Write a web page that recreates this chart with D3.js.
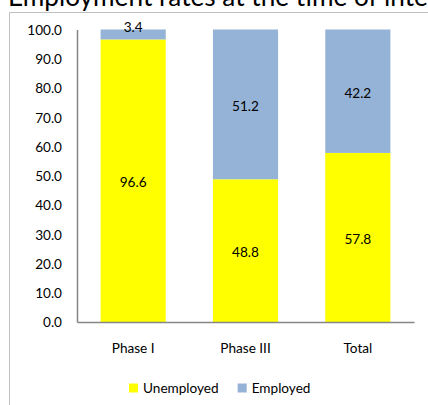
<!DOCTYPE html>
<html>
<head>
<meta charset="utf-8">
<script src="https://cdn.jsdelivr.net/npm/d3@7"></script>
<style>
  html, body { margin: 0; padding: 0; background: #fff; }
  svg { display: block; }
  text { font-family: Lato, "Open Sans", sans-serif; fill: #000; }
</style>
</head>
<body>
<svg id="chart" width="428" height="405"></svg>
<script>
// ---- data ----
const categories = ["Phase I", "Phase III", "Total"];
const unemployed = [96.6, 48.8, 57.8];
const employed = [3.4, 51.2, 42.2];
const seriesNames = ["Unemployed", "Employed"];
const seriesColors = ["#FFFF00", "#95B3D7"];
const yTicks = [0, 10, 20, 30, 40, 50, 60, 70, 80, 90, 100];
const titleText = "Employment rates at the time of interview";

// ---- layout ----
const W = 428, H = 405;
const plot = { left: 77, right: 414, top: 29.5, bottom: 322 };
const svg = d3.select("#chart");

// outer chart-area border (left and top edges visible)
svg.append("path")
  .attr("d", `M9.5,${H} V12.5 H${W}`)
  .attr("fill", "none")
  .attr("stroke", "#BFBFBF")
  .attr("stroke-width", 1);

// title (clipped by window)
const title = svg.append("text")
  .attr("x", 8).attr("y", 5.5)
  .style("font-size", "28px")
  .text(titleText);
// fit so the visible part "Employment rates at the time of inte" spans ~420px
{
  const probe = svg.append("text").style("font-size", "28px").text("Employment rates at the time of inte");
  const w = probe.node().getComputedTextLength();
  probe.remove();
  title.style("font-size", (28 * 420 / w).toFixed(2) + "px");
}

const x = d3.scaleBand()
  .domain(categories)
  .range([plot.left, plot.right])
  .paddingInner(0.42)
  .paddingOuter(0.21);

const y = d3.scaleLinear()
  .domain([0, 100])
  .range([plot.bottom, plot.top]);

// stack
const rows = categories.map((c, i) => ({ cat: c, Unemployed: unemployed[i], Employed: employed[i] }));
const stack = d3.stack().keys(seriesNames)(rows);

const groups = svg.append("g").selectAll("g")
  .data(stack).join("g")
  .attr("fill", (d, i) => seriesColors[i]);

groups.selectAll("rect")
  .data(d => d)
  .join("rect")
  .attr("x", d => x(d.data.cat))
  .attr("width", x.bandwidth())
  .attr("y", d => y(d[1]))
  .attr("height", d => y(d[0]) - y(d[1]));

// data labels
const labelG = svg.append("g").style("font-size", "13.6px").attr("text-anchor", "middle");
stack.forEach((s) => {
  s.forEach(d => {
    const v = d[1] - d[0];
    const top = y(d[1]), bot = y(d[0]);
    let yy = (top + bot) / 2 + 6.5;
    if (bot - top < 20) yy = top + 2;
    labelG.append("text")
      .attr("x", x(d.data.cat) + x.bandwidth() / 2)
      .attr("y", yy)
      .text(v.toFixed(1));
  });
});

// y axis
const yAxis = d3.axisLeft(y).tickValues(yTicks).tickSize(0).tickPadding(15).tickFormat(d3.format(".1f"));
const gy = svg.append("g").attr("transform", `translate(${plot.left},0)`).call(yAxis);
gy.select(".domain").attr("stroke", "#868686").attr("stroke-width", 1.5);
gy.selectAll("text").attr("fill", "#000").style("font-size", "13.6px").style("font-family", "Lato, sans-serif").attr("dy", "0.36em");

// x axis
const xAxis = d3.axisBottom(x).tickSize(0).tickPadding(0);
const gx = svg.append("g").attr("transform", `translate(0,${plot.bottom})`).call(xAxis);
gx.select(".domain").attr("stroke", "#868686").attr("stroke-width", 1.5);
gx.selectAll("text").attr("fill", "#000").style("font-size", "13.6px").style("font-family", "Lato, sans-serif")
  .attr("dy", null).attr("y", 31);

// legend
const leg = svg.append("g").style("font-size", "13.6px");
let lx = 129;
seriesNames.forEach((name, i) => {
  leg.append("rect").attr("x", lx).attr("y", 383.5).attr("width", 9).attr("height", 9).attr("fill", seriesColors[i]);
  const t = leg.append("text").attr("x", lx + 14).attr("y", 393).text(name);
  lx = lx + 14 + t.node().getComputedTextLength() + 19;
});
</script>
</body>
</html>
